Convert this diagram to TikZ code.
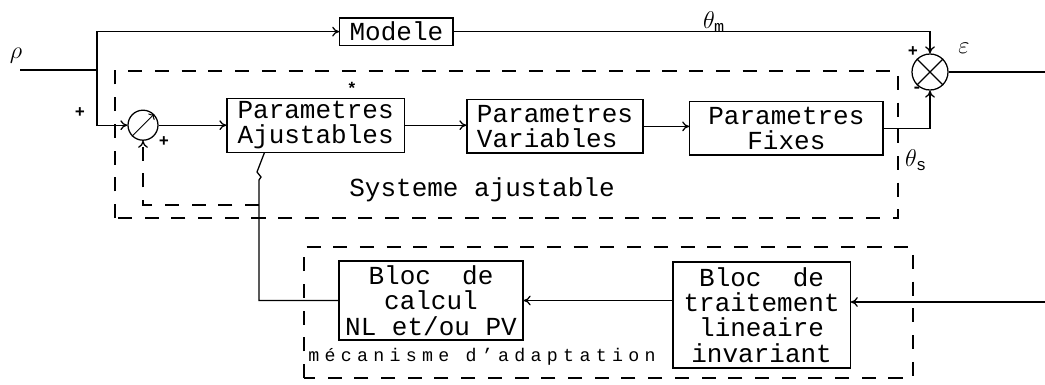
\documentclass[tikz,border=0pt]{standalone}
\usepackage{fontspec}
\setmainfont{Liberation Mono}
\usepackage{tikz}
\usetikzlibrary{arrows.meta,calc}

\begin{document}
\begin{tikzpicture}[
    blkbox/.style={rectangle, draw, line width=0.9pt, inner sep=1pt, align=center, font=\fontsize{18.5}{18}\selectfont},
    sumcirc/.style={circle, draw, line width=0.9pt, minimum size=0.75cm, inner sep=0pt},
    wire/.style={line width=0.9pt},
    arr/.style={-{To[length=5pt,width=7pt]}, line width=0.9pt},
    darr/.style={-{To[length=5pt,width=7pt]}, line width=0.9pt, dash pattern=on 10pt off 9pt},
    dashbox/.style={line width=0.9pt, dash pattern=on 10pt off 9pt},
    sgn/.style={font=\large\bfseries, inner sep=0pt},
    lbl/.style={font=\LARGE, inner sep=1pt},
  ]
    \useasboundingbox (0,0) rectangle (26.125,9.6);

    % Input
    \node[lbl] (rho) at (0.4,8.2) {$\rho$};
    \coordinate (inp) at (0.5,7.85);
    \coordinate (split) at (2.425,7.85);

    % Reference model
    \node[blkbox, minimum width=2.83cm, minimum height=0.68cm] (mod) at (9.91,8.81) {Modele};

    % Adjustable system
    \node[sumcirc] (s1) at (3.575,6.47) {};
    \node[blkbox, minimum width=4.43cm, minimum height=1.35cm] (adj) at (7.89,6.47) {Parametres\\Ajustables};
    \node[blkbox, minimum width=4.4cm, minimum height=1.33cm, align=left] (var) at (13.875,6.44) {Parametres\\Variables};
    \node[blkbox, minimum width=4.83cm, minimum height=1.33cm] (fix) at (19.66,6.39) {Parametres\\Fixes};
    \node[sumcirc, minimum size=0.9cm] (s2) at (23.25,7.8) {};
    \coordinate (out) at (26.125,7.8);

    % Summer symbols
    \draw[-{To[length=3pt]}, line width=0.7pt] (s1.south west) -- (s1.north east);
    \draw[line width=0.9pt] (s2.north west) -- (s2.south east) (s2.north east) -- (s2.south west);

    % Forward path
    \draw[wire] (inp) -- (split);
    \draw[arr] (split) |- (mod.west);
    \draw[arr] (split) |- (s1.west);
    \draw[arr] (s1.east) -- (s1.east -| adj.west);
    \draw[arr] (adj.east) -- (adj.east -| var.west);
    \draw[arr] (var.east) -- (var.east -| fix.west);
    \draw[arr] (mod.east) -| (s2.north);
    \draw[arr] (fix.east) -| (s2.south);
    \draw[wire] (s2.east) -- (out);

    % Adaptation mechanism
    \node[blkbox, minimum width=4.6cm, minimum height=1.975cm] (calc) at (10.775,2.0875) {Bloc\ \ de\\calcul\\NL et/ou PV};
    \node[blkbox, minimum width=4.43cm, minimum height=2.65cm] (trt) at (19.04,1.725) {Bloc\ \ de\\traitement\\lineaire\\invariant};
    \coordinate (fbin) at (26.125,2.05);
    \coordinate (tap) at ($(adj.south west)+(0.95,0)$);
    \coordinate (zz) at (6.475,5.1);
    \coordinate (fbtap) at (6.475,4.475);

    \draw[arr] (fbin) -- (fbin -| trt.east);
    \draw[arr] (trt.west |- calc.east) -- (calc.east);
    \draw[wire] (calc.west) -| (zz) -- ++(0.05,0.075) -- ++(-0.1,0.125) -- (tap);
    \draw[darr] (fbtap) -| (s1.south);

    % Dashed frames
    \draw[dashbox] (2.875,4.15) rectangle (22.45,7.825);
    \draw[dashbox] (7.6,0.15) rectangle (22.825,3.425);

    % Labels
    \node[font=\fontsize{18.5}{18}\selectfont] (systxt) at (12.05,4.85) {Systeme ajustable};
    \node[anchor=west, inner sep=0pt, font=\fontsize{13}{14}\selectfont\addfontfeature{LetterSpace=29}] (mectxt) at (7.7,0.675) {mécanisme d'adaptation};
    \node[lbl] (thm) at (17.85,9.05) {$\theta_{\mathrm m}$};
    \node[lbl] (ths) at (22.9,5.6) {$\theta_{\mathrm s}$};
    \node[lbl] (eps) at (24.1,8.4) {$\varepsilon$};
    \node[sgn] at (22.825,8.3) {+};
    \node[sgn] at (22.925,7.35) {-};
    \node[sgn] at (2.0,6.775) {+};
    \node[sgn] at (4.1,6.05) {+};
    \node[sgn] (star) at (8.8,7.4) {*};

\end{tikzpicture}
\end{document}
